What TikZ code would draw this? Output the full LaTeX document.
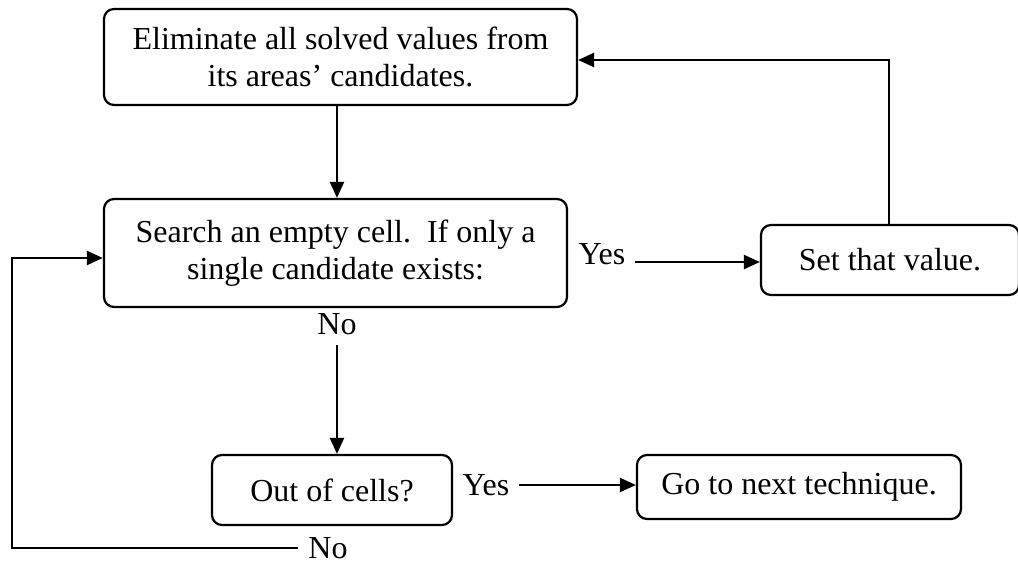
\documentclass[tikz,border=0pt]{standalone}
\usepackage{fontspec}
\setmainfont{Liberation Serif}
\usetikzlibrary{arrows.meta}
\begin{document}
\begin{tikzpicture}[x=1pt,y=-1pt,
  every node/.style={font=\fontsize{32}{37}\selectfont},
  box/.style={draw, line width=2.2pt, rounded corners=10pt, align=center, inner sep=0pt},
  lbl/.style={inner sep=10pt},
  arr/.style={line width=2.2pt, -{Triangle[length=16pt,width=14pt]}}]
\useasboundingbox (0,0) rectangle (1018,564);

% boxes
\node[box, minimum width=473pt, minimum height=96pt] (elim) at (340.5,57)
  {Eliminate all solved values from\\its areas’ candidates.};
\node[box, minimum width=463pt, minimum height=108pt] (search) at (335.5,253)
  {Search an empty cell.\ \ If only a\\single candidate exists:};
\node[box, minimum width=258pt, minimum height=70pt] (setv) at (890,260)
  {Set that value.};
\node[box, minimum width=240pt, minimum height=70pt] (out) at (332,490)
  {Out of cells?};
\node[box, minimum width=324pt, minimum height=64pt] (next) at (799,487)
  {Go to next technique.};

% branch labels
\node[lbl] (yes1) at (602,254) {Yes};
\node[lbl] (no1) at (337,324) {No};
\node[lbl] (yes2) at (486,485) {Yes};
\node[lbl] (no2) at (328,548) {No};

% routing points
\coordinate (y1) at ([yshift=-8pt]yes1.east);
\coordinate (rtop) at (889,60);
\coordinate (lin) at (12,258);

% connectors
\draw[arr] (elim.south -| no1) -- (search.north -| no1);
\draw[arr] (y1) -- (y1 -| setv.west);
\draw[arr] (rtop |- setv.north) -- (rtop) -- (rtop -| elim.east);
\draw[arr] (no1.south) -- (out.north -| no1);
\draw[arr] (yes2.east) -- (yes2.east -| next.west);
\draw[arr] (no2.west) -- (no2.west -| lin) -- (lin) -- (lin -| search.west);
\end{tikzpicture}
\end{document}
